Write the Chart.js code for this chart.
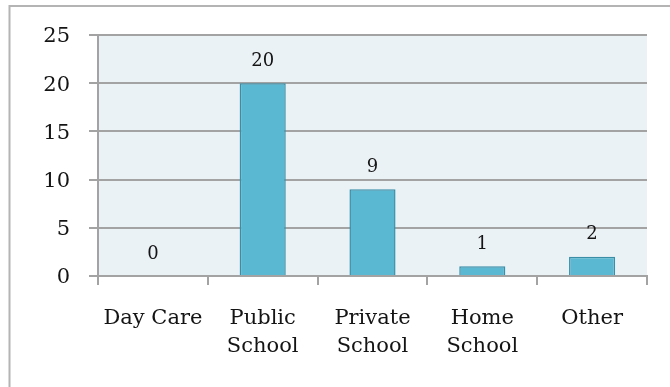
<!DOCTYPE html>
<html>
<head>
<meta charset="utf-8">
<script src="https://cdn.jsdelivr.net/npm/chart.js@4/dist/chart.umd.min.js"></script>
<style>
  html, body { margin: 0; padding: 0; background: #ffffff; }
  #wrap { width: 670px; height: 387px; position: relative; }
</style>
</head>
<body>
<div id="wrap"><canvas id="chart" width="670" height="387"></canvas></div>
<script>
// Categories (multi-line labels are arrays)
const categories = [
  "Day Care",
  ["Public", "School"],
  ["Private", "School"],
  ["Home", "School"],
  "Other"
];
// Number of respondents per category
const counts = [0, 20, 9, 1, 2];
// Y axis range and step
const yMin = 0;
const yMax = 25;
const yStep = 5;

const FONT = "'DejaVu Serif', 'Liberation Serif', serif";
const GRID = "#a3a3a3";
const INK = "#141414";

// Light panel behind the plot area plus the outer frame
const backdrop = {
  id: "backdrop",
  beforeDraw(chart) {
    const { ctx, chartArea: a } = chart;
    ctx.save();
    ctx.fillStyle = "#ebf2f6";
    ctx.fillRect(a.left, a.top, a.right - a.left, a.bottom - a.top);
    ctx.strokeStyle = "#b4b4b4";
    ctx.lineWidth = 2;
    ctx.beginPath();
    ctx.moveTo(9.5, 387);
    ctx.lineTo(9.5, 6);
    ctx.lineTo(670, 6);
    ctx.stroke();
    ctx.restore();
  }
};

// Value written above each bar
const valueLabels = {
  id: "valueLabels",
  afterDatasetsDraw(chart) {
    const { ctx } = chart;
    const meta = chart.getDatasetMeta(0);
    const ys = chart.scales.y;
    ctx.save();
    ctx.font = "18px " + FONT;
    ctx.fillStyle = INK;
    ctx.textAlign = "center";
    ctx.textBaseline = "middle";
    meta.data.forEach((bar, i) => {
      const v = chart.data.datasets[0].data[i];
      ctx.fillText(String(v), bar.x, ys.getPixelForValue(v) - 22);
    });
    ctx.restore();
  }
};

new Chart(document.getElementById("chart"), {
  type: "bar",
  data: {
    labels: categories,
    datasets: [{
      data: counts,
      backgroundColor: "#5bb8d2",
      borderColor: "#3a8fa7",
      borderWidth: 1.5,
      barPercentage: 0.42,
      categoryPercentage: 1.0
    }]
  },
  options: {
    responsive: false,
    animation: false,
    devicePixelRatio: 1,
    layout: { padding: { left: 0, right: 23, top: 35, bottom: 0 } },
    plugins: {
      legend: { display: false },
      tooltip: { enabled: false },
      title: { display: false }
    },
    scales: {
      x: {
        offset: true,
        grid: {
          offset: true,
          drawOnChartArea: false,
          drawTicks: true,
          tickLength: 9,
          color: GRID,
          lineWidth: 2
        },
        border: { color: GRID, width: 2 },
        ticks: {
          color: INK,
          padding: 20,
          maxRotation: 0,
          autoSkip: false,
          font: { family: FONT, size: 21, lineHeight: 1.33 }
        },
        afterFit(scale) { scale.height = 111; }
      },
      y: {
        min: yMin,
        max: yMax,
        grid: {
          color: GRID,
          lineWidth: 2,
          tickLength: 9
        },
        border: { color: GRID, width: 2 },
        ticks: {
          stepSize: yStep,
          color: INK,
          padding: 19,
          labelOffset: 2,
          font: { family: FONT, size: 21 }
        },
        afterFit(scale) { scale.width = 98; }
      }
    }
  },
  plugins: [backdrop, valueLabels]
});
</script>
</body>
</html>
